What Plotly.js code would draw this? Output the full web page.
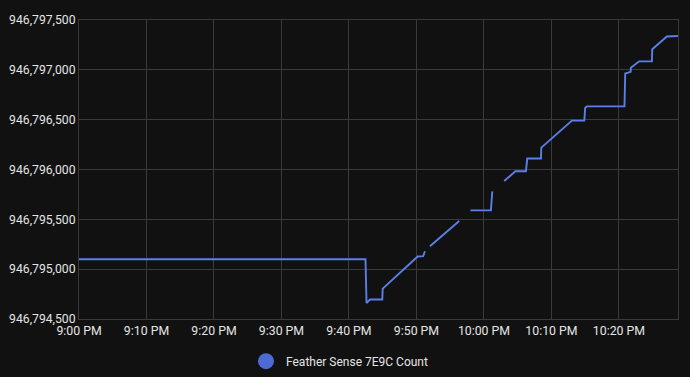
<!DOCTYPE html>
<html>
<head>
<meta charset="utf-8">
<script src="https://cdn.plot.ly/plotly-3.0.1.min.js"></script>
<style>
html,body{margin:0;padding:0;background:#111111;}
#chart{width:690px;height:377px;}
</style>
</head>
<body>
<div id="chart"></div>
<script>
const times = [
  "2024-01-01 21:00:00","2024-01-01 21:42:27","2024-01-01 21:42:36","2024-01-01 21:43:07",
  "2024-01-01 21:44:56","2024-01-01 21:45:00","2024-01-01 21:50:11","2024-01-01 21:51:00",
  "2024-01-01 21:51:15","2024-01-01 21:51:40",
  "2024-01-01 21:52:00","2024-01-01 21:56:20","2024-01-01 21:57:10",
  "2024-01-01 21:58:00","2024-01-01 22:01:02","2024-01-01 22:01:14","2024-01-01 22:02:00",
  "2024-01-01 22:03:00","2024-01-01 22:04:40","2024-01-01 22:06:13","2024-01-01 22:06:18",
  "2024-01-01 22:06:25","2024-01-01 22:08:27","2024-01-01 22:08:30","2024-01-01 22:13:02",
  "2024-01-01 22:14:52","2024-01-01 22:15:00","2024-01-01 22:15:16","2024-01-01 22:20:49",
  "2024-01-01 22:20:56","2024-01-01 22:21:44","2024-01-01 22:21:46","2024-01-01 22:23:00",
  "2024-01-01 22:24:53","2024-01-01 22:24:56","2024-01-01 22:27:06","2024-01-01 22:28:44"
];
const counts = [
  946795100,946795100,946794660,946794695,
  946794695,946794805,946795127,946795130,
  946795180,null,
  946795230,946795483,null,
  946795590,946795590,946795780,null,
  946795885,946795983,946795983,946796085,
  946796110,946796110,946796220,946796490,
  946796490,946796620,946796633,946796635,
  946796963,946796980,946797020,946797085,
  946797085,946797207,946797335,946797340
];
const seriesName = "Feather Sense 7E9C Count";
const yTicks = [946794500,946795000,946795500,946796000,946796500,946797000,946797500];
const xRange = ["2024-01-01 21:00:00","2024-01-01 22:28:45"];

const lineColor = "#5b7fe8";
const gridColor = "#3a3a3a";
const textColor = "#e4e4e4";

const traces = [
  {x: times, y: counts, type: "scatter", mode: "lines", connectgaps: false,
   line: {color: lineColor, width: 1.9}, showlegend: false, hoverinfo: "x+y"},
  {x: [null], y: [null], type: "scatter", mode: "markers", name: seriesName,
   marker: {color: "#4d6ad6", size: 16, symbol: "circle"}, showlegend: true}
];
const layout = {
  width: 690, height: 377,
  paper_bgcolor: "#111111", plot_bgcolor: "#111111",
  margin: {l: 79, r: 12, t: 20, b: 58, autoexpand: false},
  font: {family: "Roboto, sans-serif", size: 12, color: textColor},
  xaxis: {type: "date", range: xRange, dtick: 600000, tick0: "2024-01-01 21:00:00",
    tickformat: "%-I:%M %p", showgrid: true, gridcolor: gridColor, gridwidth: 1,
    zeroline: false, showline: true, linecolor: gridColor, mirror: true,
    ticks: "", tickfont: {size: 12.3, color: textColor}},
  yaxis: {range: [946794500, 946797500], tickvals: yTicks, tickformat: ",d",
    showgrid: true, gridcolor: gridColor, gridwidth: 1, zeroline: false,
    showline: true, linecolor: gridColor, mirror: true, ticks: "",
    tickfont: {size: 12.2, color: textColor}},
  legend: {orientation: "h", xref: "container", yref: "container",
    x: 0.3565, xanchor: "left", y: 0.042, yanchor: "middle",
    font: {size: 12, color: textColor}, bgcolor: "rgba(0,0,0,0)"},
  showlegend: true
};
Plotly.newPlot("chart", traces, layout, {displayModeBar: false, staticPlot: true});
</script>
</body>
</html>
